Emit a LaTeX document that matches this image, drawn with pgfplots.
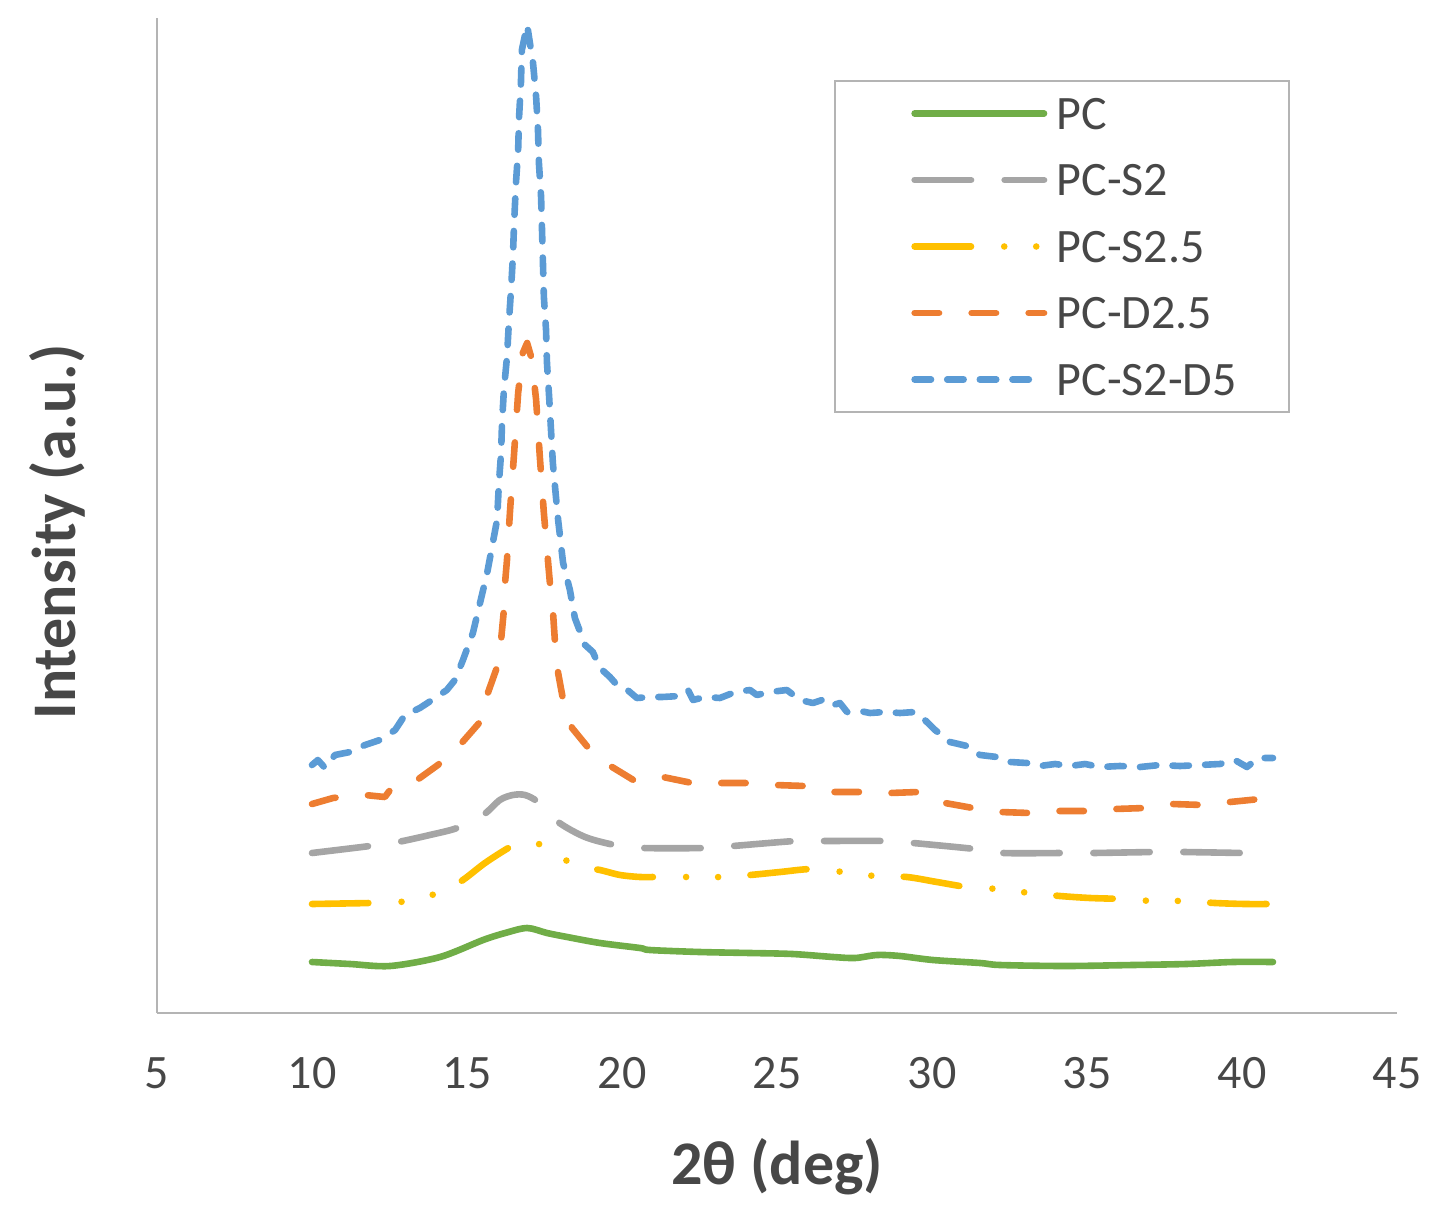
\documentclass[border=0pt]{standalone}
\usepackage{pgfplots}
\pgfplotsset{compat=1.18}
\usepackage{fontspec}
\setmainfont{Carlito}
\definecolor{cPC}{HTML}{70AD47}
\definecolor{cS2}{HTML}{A5A5A5}
\definecolor{cS25}{HTML}{FFC000}
\definecolor{cD25}{HTML}{ED7D31}
\definecolor{cSD}{HTML}{5B9BD5}
\definecolor{txt}{HTML}{474747}
\definecolor{axl}{HTML}{B4B4B4}
\begin{document}
\begin{tikzpicture}
\useasboundingbox (-78.5pt,-97pt) rectangle (648pt,506.5pt);
\begin{axis}[
  scale only axis, width=620pt, height=497.5pt,
  xmin=5, xmax=45, ymin=0, ymax=995,
  axis x line*=bottom, axis y line*=left,
  axis line style={axl, line width=1.3pt},
  xtick={5,10,...,45}, ytick=\empty,
  major tick length=0pt,
  /pgf/number format/assume math mode=true,
  xticklabel style={font=\fontsize{24}{28}\selectfont, text=txt, anchor=center, yshift=-30pt},
  xlabel={\textbf{2θ (deg)}},
  ylabel={\textbf{Intensity (a.u.)}},
  xlabel style={font=\fontsize{31}{36}\selectfont, text=txt, at={(axis description cs:0.5,-0.1548)}, anchor=center},
  ylabel style={font=\fontsize{31}{36}\selectfont, text=txt, at={(axis description cs:-0.0806,0.4834)}, anchor=center, rotate=0},
  legend cell align=left,
  legend style={at={(axis description cs:0.546,0.9377)}, anchor=north west,
    draw=axl, line width=1pt, inner xsep=0pt, inner ysep=8.25pt, row sep=17.25pt,
    font=\fontsize{24}{28}\selectfont, text=txt,
    nodes={inner sep=0pt, text width=116pt, align=left, text height=16pt, text depth=0pt}},
  legend image code/.code={\path (0pt,0pt) (107.5pt,0pt); \draw[#1] (38.15pt,0pt) -- (102.85pt,0pt);},
  every axis plot/.append style={line width=3.3pt, line cap=round, line join=round},
]
\addplot[cPC, smooth, tension=0.5] coordinates {
(10.0,51) (11.23,49) (12.52,47) (14.13,56) (15.52,73) (16.23,80) (16.94,85) (17.58,80) (18.23,76) (19.29,70) (20.58,65) (20.90,63) (22.5,61) (24.13,60) (25.5,59) (26.81,56) (27.52,55) (28.23,58) (28.97,57) (30.03,53) (31.55,50) (32.19,48) (34.3,47) (36.48,48) (38.2,49) (39.71,51) (41.0,51)};
\addlegendentry{PC}
\addplot[cS2, smooth, tension=0.5, dash pattern=on 28.2pt off 16.8pt] coordinates {
(10.0,160) (11.87,167) (12.77,171) (13.8,178) (14.68,185) (15.52,198) (16.06,213) (16.48,218) (16.87,218) (17.29,211) (17.94,191) (18.81,176) (19.77,168) (20.68,165) (22.68,165) (23.58,167) (25.58,172) (26.48,172) (28.48,172) (29.39,170) (31.39,164) (32.29,160) (34.29,160) (35.19,160) (37.19,161) (38.10,161) (40.10,160) (41.0,160)};
\addlegendentry{PC-S2}
\addplot[cS25, smooth, tension=0.5, dash pattern=on 28.2pt off 16.6pt on 0pt off 16pt on 0pt off 16.2pt] coordinates {
(10.0,109) (11.87,110) (12.84,111) (13.87,118) (14.77,131) (15.58,150) (16.39,166) (16.87,172) (17.32,169) (17.77,162) (18.23,152) (18.71,146) (19.29,143) (19.94,138) (20.58,136) (21.13,136) (22.10,136) (23.19,136) (24.13,138) (25.10,141) (26.13,144) (27.13,141) (28.16,137) (29.19,136) (30.16,131) (31.13,126) (32.10,124) (33.16,120) (34.13,117) (35.10,115) (36.13,114) (37.13,112) (38.19,112) (39.13,110) (40.10,109) (41.0,109)};
\addlegendentry{PC-S2.5}
\addplot[cD25, dash pattern=on 12.2pt off 16.3pt] coordinates {
(10.0,209) (10.68,215) (11.23,217) (11.71,218) (12.35,216) (12.52,223) (13.39,233) (14.06,248) (14.77,268) (15.42,291) (15.65,318) (15.97,346) (16.10,373) (16.19,403) (16.23,431) (16.29,453) (16.39,503) (16.52,560) (16.65,620) (16.80,660) (16.94,670) (17.08,655) (17.23,613) (17.35,556) (17.48,500) (17.61,453) (17.68,428) (17.77,403) (17.84,370) (17.94,340) (18.10,313) (18.39,285) (18.97,263) (19.68,246) (20.42,232) (21.32,236) (22.26,230) (23.16,230) (24.13,230) (24.94,228) (25.90,227) (26.81,221) (27.74,221) (28.65,220) (29.55,221) (30.42,210) (31.32,205) (32.19,201) (33.16,200) (34.03,202) (35.00,202) (35.90,204) (36.87,205) (37.74,209) (38.74,208) (39.61,211) (40.58,214) (41.00,214)};
\addlegendentry{PC-D2.5}
\addplot[cSD, dash pattern=on 8.2pt off 8.1pt] coordinates {
(10.0,248) (10.19,253) (10.42,245) (10.74,258) (11.23,261) (11.71,268) (12.19,273) (12.68,283) (13.00,298) (13.48,305) (13.97,315) (14.35,323) (14.61,333) (14.87,353) (15.19,380) (15.42,410) (15.65,440) (15.97,493) (16.03,530) (16.10,560) (16.13,590) (16.19,623) (16.29,656) (16.35,690) (16.42,723) (16.48,756) (16.52,790) (16.58,830) (16.65,863) (16.68,896) (16.74,930) (16.77,963) (16.94,988) (17.13,950) (17.23,916) (17.29,883) (17.32,850) (17.39,816) (17.42,783) (17.45,750) (17.48,716) (17.55,683) (17.58,650) (17.65,616) (17.71,583) (17.77,550) (17.87,516) (17.94,493) (18.10,450) (18.32,423) (18.48,395) (18.81,368) (19.06,361) (19.29,345) (19.61,336) (19.84,328) (20.10,325) (20.48,315) (20.90,316) (21.29,316) (21.87,317) (22.13,323) (22.29,313) (22.68,316) (23.16,315) (23.65,321) (24.13,323) (24.35,318) (24.77,321) (25.32,323) (25.74,313) (26.16,310) (26.45,313) (26.71,307) (27.03,310) (27.26,301) (27.68,302) (28.00,300) (28.48,301) (28.97,300) (29.45,301) (29.77,293) (30.10,283) (30.58,271) (31.13,267) (31.55,258) (32.10,256) (32.52,251) (33.06,250) (33.48,247) (33.97,249) (34.45,247) (34.94,249) (35.42,246) (36.06,247) (36.71,246) (37.35,248) (38.00,247) (38.65,248) (39.29,249) (39.77,253) (40.16,246) (40.52,255) (41.00,255)};
\addlegendentry{PC-S2-D5}
\end{axis}
\end{tikzpicture}
\end{document}
